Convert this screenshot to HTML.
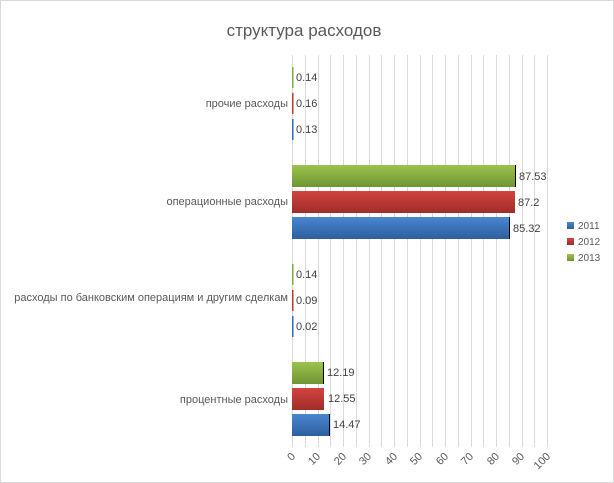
<!DOCTYPE html>
<html><head><meta charset="utf-8"><style>
body{margin:0;background:#fff}
svg{display:block;font-family:"Liberation Sans","Noto Sans CJK SC",sans-serif}
</style></head><body>
<svg width="614" height="483" viewBox="0 0 614 483">
<defs>
<linearGradient id="gb" x1="0" y1="0" x2="0" y2="1"><stop offset="0" stop-color="#4a86d0"/><stop offset="1" stop-color="#2d5f9f"/></linearGradient>
<linearGradient id="gr" x1="0" y1="0" x2="0" y2="1"><stop offset="0" stop-color="#d24440"/><stop offset="1" stop-color="#a02c2a"/></linearGradient>
<linearGradient id="gg" x1="0" y1="0" x2="0" y2="1"><stop offset="0" stop-color="#9cc34e"/><stop offset="1" stop-color="#6f9431"/></linearGradient>
</defs>
<rect x="0.5" y="0.5" width="613" height="482" fill="#fff" stroke="#d9d9d9"/>
<text x="304" y="36" font-size="17" fill="#595959" text-anchor="middle">структура расходов</text>
<g stroke="#d9d9d9" stroke-width="1">
<line x1="292.5" y1="55" x2="292.5" y2="447"/><line x1="305.5" y1="55" x2="305.5" y2="447"/><line x1="318.5" y1="55" x2="318.5" y2="447"/><line x1="330.5" y1="55" x2="330.5" y2="447"/><line x1="343.5" y1="55" x2="343.5" y2="447"/><line x1="356.5" y1="55" x2="356.5" y2="447"/><line x1="369.5" y1="55" x2="369.5" y2="447"/><line x1="381.5" y1="55" x2="381.5" y2="447"/><line x1="394.5" y1="55" x2="394.5" y2="447"/><line x1="407.5" y1="55" x2="407.5" y2="447"/><line x1="420.5" y1="55" x2="420.5" y2="447"/><line x1="432.5" y1="55" x2="432.5" y2="447"/><line x1="445.5" y1="55" x2="445.5" y2="447"/><line x1="458.5" y1="55" x2="458.5" y2="447"/><line x1="471.5" y1="55" x2="471.5" y2="447"/><line x1="483.5" y1="55" x2="483.5" y2="447"/><line x1="496.5" y1="55" x2="496.5" y2="447"/><line x1="509.5" y1="55" x2="509.5" y2="447"/><line x1="522.5" y1="55" x2="522.5" y2="447"/><line x1="534.5" y1="55" x2="534.5" y2="447"/><line x1="547.5" y1="55" x2="547.5" y2="447"/>
</g>
<rect x="292" y="67" width="1.5" height="21" fill="#7fae3b"/>
<rect x="292" y="93" width="1.5" height="21" fill="#c0392b"/>
<rect x="292" y="119" width="1.5" height="21" fill="#2e6dbb"/>
<rect x="292" y="165" width="223" height="22" fill="url(#gg)"/><line x1="515.5" y1="165" x2="515.5" y2="187" stroke="#000"/>
<rect x="292" y="191" width="223" height="22" fill="url(#gr)"/>
<rect x="292" y="217" width="217" height="22" fill="url(#gb)"/><line x1="509.5" y1="217" x2="509.5" y2="239" stroke="#000"/>
<rect x="292" y="264" width="1.5" height="21" fill="#7fae3b"/>
<rect x="292" y="290" width="1.5" height="21" fill="#c0392b"/>
<rect x="292" y="316" width="1.5" height="21" fill="#2e6dbb"/>
<rect x="292" y="362" width="31" height="22" fill="url(#gg)"/><line x1="323.5" y1="362" x2="323.5" y2="384" stroke="#000"/>
<rect x="292" y="388" width="32" height="22" fill="url(#gr)"/>
<rect x="292" y="414" width="37" height="22" fill="url(#gb)"/><line x1="329.5" y1="414" x2="329.5" y2="436" stroke="#000"/>
<g font-size="11" fill="#404040">
<text x="296" y="81">0.14</text><text x="296" y="107">0.16</text><text x="296" y="133">0.13</text>
<text x="519" y="180">87.53</text><text x="518" y="206">87.2</text><text x="513" y="232">85.32</text>
<text x="296" y="278">0.14</text><text x="296" y="304">0.09</text><text x="296" y="330">0.02</text>
<text x="327" y="376">12.19</text><text x="328" y="402">12.55</text><text x="333" y="428">14.47</text>
</g>
<g font-size="11" fill="#595959" text-anchor="end">
<text x="288" y="107">прочие расходы</text>
<text x="288" y="205">операционные расходы</text>
<text x="288" y="301">расходы по банковским операциям и другим сделкам</text>
<text x="288" y="403">процентные расходы</text>
</g>
<g font-size="11" fill="#595959" text-anchor="end">
<text transform="translate(296,457) rotate(-45)">0</text>
<text transform="translate(321,457) rotate(-45)">10</text>
<text transform="translate(347,457) rotate(-45)">20</text>
<text transform="translate(372,457) rotate(-45)">30</text>
<text transform="translate(398,457) rotate(-45)">40</text>
<text transform="translate(423,457) rotate(-45)">50</text>
<text transform="translate(449,457) rotate(-45)">60</text>
<text transform="translate(474,457) rotate(-45)">70</text>
<text transform="translate(500,457) rotate(-45)">80</text>
<text transform="translate(525,457) rotate(-45)">90</text>
<text transform="translate(551,457) rotate(-45)">100</text>
</g>
<rect x="567" y="222" width="7" height="7" fill="url(#gb)"/>
<rect x="567" y="238" width="7" height="7" fill="url(#gr)"/>
<rect x="567" y="254" width="7" height="7" fill="url(#gg)"/>
<g font-size="10" fill="#595959">
<text x="578" y="229">2011</text><text x="578" y="245">2012</text><text x="578" y="261">2013</text>
</g>
</svg>
</body></html>
